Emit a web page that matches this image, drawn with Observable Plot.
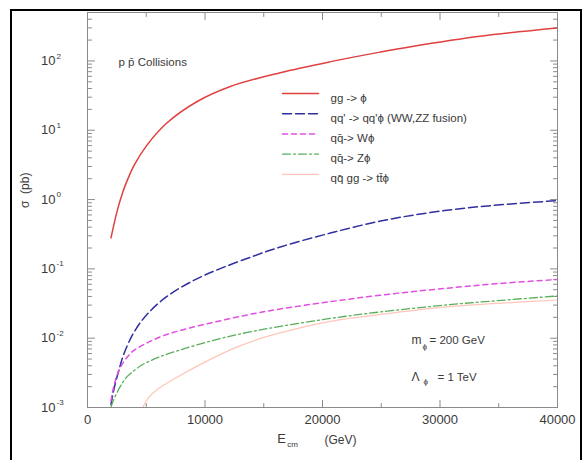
<!DOCTYPE html>
<html><head><meta charset="utf-8">
<script src="https://cdn.jsdelivr.net/npm/d3@7"></script>
<script src="https://cdn.jsdelivr.net/npm/@observablehq/plot@0.6"></script>
<style>
html,body{margin:0;padding:0;background:#fff;width:588px;height:460px;overflow:hidden;}
#wrap{position:relative;width:588px;height:460px;}
#wrap svg{position:absolute;left:0;top:0;}
#border{position:absolute;left:10px;top:9px;width:568px;height:480px;border:2px solid #000;pointer-events:none;}
</style></head><body><div id="wrap"><div id="border"></div></div>
<script>
// ---- data ----
const xTicks = [0, 10000, 20000, 30000, 40000];
const xMinorTicks = [5000, 15000, 25000, 35000];
const yTicks = [1e-3, 1e-2, 1e-1, 1, 10, 100];
const yTickExponents = ["-3", "-2", "-1", "0", "1", "2"];

const E_gg = [2000, 2500, 3000, 3500, 4000, 5000, 6750, 9300, 12100, 16400, 20600, 24900, 27750, 33400, 40000];
const sigma_gg = [0.28, 0.66, 1.28, 2.11, 3.19, 5.9, 12.7, 25.8, 42.5, 67.6, 97, 134, 163, 227, 299];

const E_vbf = [2000, 2100, 2360, 2725, 3070, 3920, 5060, 6760, 9030, 11300, 14140, 16410, 20670, 24930, 29180, 33440, 40000];
const sigma_vbf = [0.0011, 0.00138, 0.0022, 0.00373, 0.00575, 0.0119, 0.0220, 0.0400, 0.0681, 0.101, 0.153, 0.207, 0.329, 0.490, 0.650, 0.793, 0.967];

const E_W = [2000, 2100, 2270, 2530, 2870, 3300, 3890, 5000, 6190, 7900, 10700, 13600, 16400, 20700, 24900, 30600, 34800, 40000];
const sigma_W = [0.00125, 0.00158, 0.00212, 0.00296, 0.00399, 0.00512, 0.00656, 0.00842, 0.01044, 0.01295, 0.0169, 0.0217, 0.0264, 0.0337, 0.0417, 0.0527, 0.0610, 0.0704];

const E_Z = [2000, 2190, 2500, 2870, 3355, 3890, 4490, 5060, 6190, 7900, 10700, 13600, 16400, 20700, 24900, 30600, 34800, 40000];
const sigma_Z = [0.00102, 0.00125, 0.00163, 0.00212, 0.00277, 0.00332, 0.00396, 0.00448, 0.00541, 0.00678, 0.0093, 0.0121, 0.0148, 0.0193, 0.0239, 0.0302, 0.0347, 0.0407];

const E_tt = [4700, 5170, 6020, 7900, 10450, 12750, 15300, 18100, 20670, 24930, 30600, 34800, 40000];
const sigma_tt = [0.001, 0.00136, 0.00186, 0.00291, 0.00495, 0.0075, 0.0106, 0.0141, 0.0175, 0.0220, 0.0283, 0.0317, 0.0356];

const seriesNames = ["gg -> ϕ", "qq' -> qq'ϕ (WW,ZZ fusion)", "qq̄-> Wϕ", "qq̄-> Zϕ", "qq̄ gg -> tt̄ϕ"];
const seriesColors = ["#e04040", "#2f2f9f", "#e050e0", "#5aae5a", "#ffc6b8"];
const seriesDash = [null, "9,4", "5,4", "8,3,2,3", null];
const seriesWidth = [1.5, 1.5, 1.5, 1.3, 1.2];
const seriesE = [E_gg, E_vbf, E_W, E_Z, E_tt];
const seriesSigma = [sigma_gg, sigma_vbf, sigma_W, sigma_Z, sigma_tt];

// ---- build ----
const yMinor = [];
for (let d = -3; d <= 2; d++) for (let k = 2; k <= 9; k++) { const v = k * Math.pow(10, d); if (v <= 500) yMinor.push(v); }

const line = {draw(ctx, l) { ctx.moveTo(0, 0); ctx.lineTo(0, -l); }};
const axisGray = "#8a8a8a";
const txt = "#3a3a3a";
const font = "Liberation Sans, Arial, sans-serif";

const marks = [Plot.frame({stroke: axisGray})];

// ticks, inward, mirrored
const tickSpec = [
  {data: xTicks, ch: "x", anchor: "bottom", rotate: 0, len: 7},
  {data: xTicks, ch: "x", anchor: "top", rotate: 180, len: 7},
  {data: xMinorTicks, ch: "x", anchor: "bottom", rotate: 0, len: 4},
  {data: xMinorTicks, ch: "x", anchor: "top", rotate: 180, len: 4},
  {data: yTicks, ch: "y", anchor: "left", rotate: 90, len: 7},
  {data: yTicks, ch: "y", anchor: "right", rotate: -90, len: 7},
  {data: yMinor, ch: "y", anchor: "left", rotate: 90, len: 4},
  {data: yMinor, ch: "y", anchor: "right", rotate: -90, len: 4}
];
for (const t of tickSpec) {
  marks.push(Plot.vector(t.data, {[t.ch]: d => d, frameAnchor: t.anchor, rotate: t.rotate, length: t.len, anchor: "start", shape: line, stroke: axisGray, strokeWidth: 1}));
}

// series
seriesNames.forEach((name, i) => {
  const data = seriesE[i].map((e, j) => ({E: e, s: seriesSigma[i][j]}));
  marks.push(Plot.line(data, {x: "E", y: "s", stroke: seriesColors[i], strokeWidth: seriesWidth[i], strokeDasharray: seriesDash[i], curve: "catmull-rom", clip: true}));
});

// tick labels
marks.push(Plot.text(xTicks, {x: d => d, text: d => String(d), frameAnchor: "bottom", dy: 16, fontSize: 13, fill: txt, letterSpacing: 0.6}));
marks.push(Plot.text(yTicks, {y: d => d, text: () => "10", frameAnchor: "left", dx: -32, textAnchor: "end", fontSize: 13, fill: txt, letterSpacing: 0.6}));
marks.push(Plot.text(yTicks, {y: d => d, text: (d, i) => yTickExponents[i], frameAnchor: "left", dx: -31, dy: -5, textAnchor: "start", fontSize: 8, fill: txt}));

// axis titles
marks.push(Plot.text(["σ  (pb)"], {frameAnchor: "left", dx: -62, dy: -2, rotate: -90, fontSize: 12, fill: txt, letterSpacing: 0.6}));
marks.push(Plot.text(["E"], {frameAnchor: "bottom", dx: -41, dy: 35, fontSize: 13, fill: txt}));
marks.push(Plot.text(["cm"], {frameAnchor: "bottom", dx: -30, dy: 39, fontSize: 8, fill: txt}));
marks.push(Plot.text(["(GeV)"], {frameAnchor: "bottom", dx: 18, dy: 36, fontSize: 12, fill: txt, letterSpacing: 0.6}));

// annotations
const ann = (s, dx, dy, fs) => Plot.text([s], {frameAnchor: "top-left", dx, dy, textAnchor: "start", fontSize: fs, fill: txt, letterSpacing: 0.4});
marks.push(ann("p p̄ Collisions", 31, 45, 11.5));
marks.push(ann("m", 324, 323, 12));
marks.push(ann("ϕ", 335, 331, 8));
marks.push(ann("= 200 GeV", 342, 323, 11.5));
marks.push(ann("Λ", 324, 360, 12));
marks.push(ann("ϕ", 336, 366, 8));
marks.push(ann("= 1 TeV", 350, 360, 11.5));

// legend
seriesNames.forEach((name, i) => {
  const dy = 81 + 20.2 * i;
  marks.push(Plot.vector([name], {frameAnchor: "top-left", dx: 195, dy, rotate: 90, length: 36, anchor: "start", shape: line, stroke: seriesColors[i], strokeWidth: seriesWidth[i], strokeDasharray: seriesDash[i]}));
  marks.push(ann(name, 243, dy, 11.5));
});

const chart = Plot.plot({
  width: 588, height: 460,
  marginLeft: 87, marginRight: 31, marginTop: 12, marginBottom: 53,
  style: {fontFamily: font, background: "transparent"},
  x: {domain: [0, 40000], axis: null},
  y: {type: "log", domain: [1e-3, 500], axis: null},
  marks
});
document.getElementById("wrap").prepend(chart);
</script></body></html>
